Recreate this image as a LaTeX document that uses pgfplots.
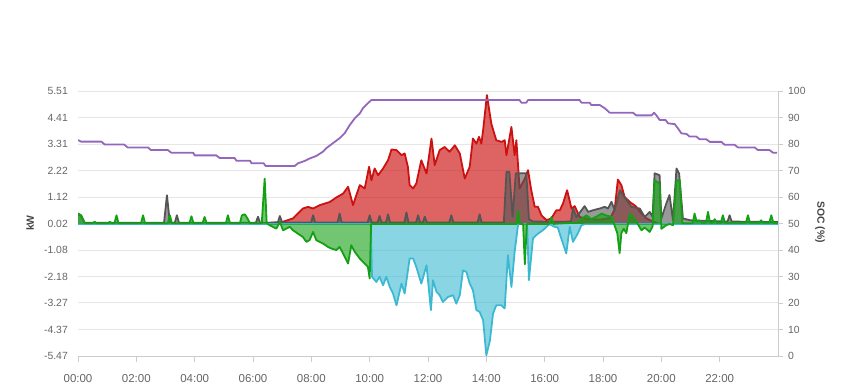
\documentclass[border=0pt]{standalone}
\usepackage{fontspec}
\setmainfont{Liberation Sans}
\usepackage{pgfplots}
\pgfplotsset{compat=1.18}
\usepackage{pgfplotstable}
\definecolor{redc}{HTML}{CC1111}
\definecolor{grayc}{HTML}{555555}
\definecolor{greenc}{HTML}{14A014}
\definecolor{cyanc}{HTML}{3CB9D2}
\definecolor{purc}{HTML}{9467BD}
\definecolor{gridc}{HTML}{E6E6E6}
\definecolor{axisc}{HTML}{CCCCCC}
\definecolor{labc}{HTML}{666666}
\definecolor{titc}{HTML}{444444}

\pgfplotstableread{
t v
0 0
6.40 0
6.57 0.05
7.02 0.09
7.37 0.23
7.71 0.64
7.89 0.71
8.06 0.64
8.29 0.78
8.63 0.91
8.86 1.10
9.09 1.26
9.26 1.54
9.43 0.78
9.66 1.61
9.83 1.47
9.98 2.37
10.06 1.81
10.17 2.30
10.29 2.02
10.46 2.30
10.63 2.64
10.75 3.09
10.92 3.06
11.09 2.85
11.20 2.92
11.31 2.37
11.37 1.61
11.49 1.47
11.60 1.68
11.77 2.64
11.95 2.09
12.12 3.54
12.23 2.44
12.40 3.06
12.57 3.19
12.74 2.99
12.92 3.26
13.09 2.92
13.26 1.88
13.43 2.37
13.54 3.54
13.66 3.33
13.75 3.61
13.83 3.33
13.89 3.89
14.02 5.34
14.17 4.16
14.34 3.47
14.52 3.40
14.63 3.47
14.69 2.85
14.86 4.02
14.97 2.85
15.03 3.47
15.14 1.47
15.32 1.88
15.43 2.23
15.54 1.40
15.66 0.71
15.77 0.71
15.89 0.36
16.06 0.16
16.23 0.23
16.40 0.57
16.52 0.57
16.63 0.85
16.77 1.40
16.92 0.64
17.03 0.74
17.20 0.29
17.50 0.20
17.90 0.18
18.25 0.25
18.40 0.60
18.51 1.84
18.63 1.61
18.74 1.12
18.92 0.91
19.12 0.74
19.32 0.43
19.49 0.23
19.67 0.12
19.94 0
24 0
}\redtab

\pgfplotstableread{
t v
0 0.40
0.11 0.33
0.23 0.05
2.95 0.05
3.05 1.19
3.15 0.05
3.32 0.05
3.39 0.36
3.46 0.05
6.10 0.05
6.17 0.30
6.24 0.05
6.85 0.05
6.92 0.33
7.00 0.06
7.99 0.06
8.06 0.36
8.13 0.06
8.90 0.06
8.97 0.43
9.04 0.06
9.93 0.06
10.00 0.36
10.07 0.06
10.27 0.06
10.34 0.33
10.41 0.06
10.56 0.06
10.63 0.40
10.70 0.06
11.19 0.06
11.26 0.48
11.33 0.06
11.59 0.06
11.66 0.36
11.73 0.06
11.82 0.06
11.89 0.30
11.96 0.06
12.73 0.06
12.80 0.36
12.87 0.06
13.70 0.06
13.77 0.40
13.84 0.06
14.60 0.06
14.69 2.16
14.79 2.16
14.90 0.30
15.01 2.10
15.37 2.10
15.46 0.20
15.60 0.10
16.52 0.09
16.90 0.10
16.97 0.64
17.09 0.29
17.37 0.74
17.49 0.50
17.66 0.57
17.89 0.64
18.06 0.71
18.17 0.64
18.29 0.92
18.40 0.57
18.58 1.40
18.74 1.12
18.97 0.71
19.26 0.64
19.43 0.29
19.60 0.50
19.70 0.30
19.77 2.10
19.94 2.02
20.00 0.23
20.17 0.85
20.28 1.20
20.40 0.16
20.52 2.30
20.61 2.09
20.74 0.23
21.00 0.15
22.27 0.10
22.34 0.36
22.41 0.10
24 0.08
}\graytab

\pgfplotstableread{
t v
0 0
10.04 0
10.08 -2.19
10.23 -2.40
10.34 -2.19
10.46 -2.54
10.57 -2.19
10.69 -2.61
10.80 -2.88
10.92 -3.37
11.09 -2.47
11.20 -2.88
11.37 -1.43
11.49 -1.43
11.60 -1.78
11.77 -2.47
11.95 -1.71
12.10 -3.57
12.17 -2.33
12.29 -2.81
12.40 -2.95
12.51 -3.23
12.69 -3.02
12.86 -2.95
12.97 -3.30
13.09 -2.95
13.20 -1.92
13.32 -1.99
13.43 -2.47
13.54 -2.74
13.66 -3.57
13.77 -3.64
13.89 -3.99
14.00 -5.44
14.12 -4.85
14.23 -3.71
14.34 -3.37
14.52 -3.37
14.63 -3.50
14.74 -1.29
14.86 -2.61
14.97 -1.16
15.09 0
15.40 0
15.46 -2.33
15.60 -0.59
15.77 -0.40
15.94 -0.26
16.17 0
16.30 -0.10
16.45 -0.15
16.57 -0.60
16.74 -1.22
16.86 -0.12
16.97 -0.74
17.14 -0.39
17.26 -0.05
17.40 0
24 0
}\cyantab

\pgfplotstableread{
t v
0 0.44
0.11 0.36
0.23 0.03
0.50 0.03
0.57 0.09
0.64 0.03
1.02 0.03
1.09 0.09
1.16 0.03
1.25 0.03
1.32 0.36
1.39 0.03
2.16 0.03
2.23 0.36
2.30 0.03
3.08 0.03
3.15 0.36
3.22 0.03
3.82 0.03
3.89 0.32
3.96 0.03
4.27 0.03
4.34 0.29
4.41 0.03
5.07 0.03
5.14 0.36
5.21 0.03
5.55 0.03
5.62 0.36
5.72 0.40
5.80 0.25
5.90 0.03
6.30 0.03
6.40 1.88
6.47 0.03
6.57 -0.05
6.80 -0.19
6.92 0.09
7.03 -0.26
7.26 -0.12
7.37 -0.26
7.54 -0.40
7.71 -0.54
7.83 -0.74
7.94 -0.67
8.06 -0.33
8.17 -0.67
8.40 -0.81
8.57 -0.95
8.69 -1.02
8.86 -1.08
8.97 -0.95
9.09 -1.23
9.26 -1.64
9.37 -0.88
9.49 -1.16
9.66 -1.43
9.83 -1.64
9.94 -1.78
10.00 -2.26
10.05 0
15.04 0
15.09 0.56
15.14 0
15.26 0
15.32 -1.67
15.39 0
16.15 0
16.23 0.29
16.30 0
16.52 0.02
17.09 0.05
17.43 0.36
17.60 0.20
17.77 0.30
17.95 0.43
18.12 0.35
18.29 0.30
18.49 -0.38
18.57 -1.21
18.63 -0.38
18.71 -0.20
18.80 -0.38
18.92 0.43
19.09 0.20
19.32 -0.26
19.43 -0.15
19.60 -0.33
19.70 -0.10
19.77 1.81
19.94 1.67
20.00 -0.20
20.17 -0.05
20.28 0.00
20.40 -0.05
20.52 1.81
20.63 1.81
20.72 0.03
21.07 0.03
21.14 0.43
21.21 0.10
21.31 0.15
21.40 0.05
21.53 0.05
21.60 0.50
21.67 0.05
21.76 0.05
21.83 0.20
21.90 0.05
22.04 0.05
22.11 0.36
22.18 0.05
22.90 0.05
22.97 0.36
23.04 0.05
23.35 0.05
23.42 0.15
23.50 0.05
23.70 0.05
23.77 0.36
23.84 0.05
24 0.03
}\greentab

\pgfplotstableread{
t v
0 81.5
0.10 80.9
0.80 80.9
0.92 79.8
1.58 79.8
1.70 78.7
2.40 78.7
2.50 77.7
3.08 77.7
3.20 76.7
3.95 76.7
4.00 75.7
4.74 75.7
4.86 74.7
5.37 74.7
5.43 73.7
5.90 73.7
5.95 72.7
6.37 72.7
6.43 71.7
7.43 71.7
7.54 72.7
7.77 73.6
7.94 74.5
8.17 75.5
8.40 77.1
8.51 78.4
8.74 80.3
8.97 82.2
9.14 84.0
9.32 87.2
9.49 89.7
9.66 91.5
9.77 93.5
9.94 95.4
10.06 96.6
15.14 96.6
15.20 95.6
15.37 95.6
15.43 96.6
17.20 96.6
17.26 95.6
17.54 95.6
17.60 94.7
17.89 94.7
18.06 93.5
18.23 91.8
19.03 91.8
19.14 90.8
19.66 90.8
19.75 91.8
19.83 90.8
19.94 89.1
20.15 89.0
20.23 87.8
20.46 87.5
20.57 85.9
20.69 84.0
20.86 83.8
20.97 82.8
21.20 82.8
21.31 81.8
21.54 81.8
21.66 80.8
22.06 80.8
22.17 79.7
22.51 79.7
22.63 78.7
23.20 78.7
23.31 77.7
23.71 77.7
23.83 76.7
23.97 76.7
}\soctab

\begin{document}
\begin{tikzpicture}
\path[use as bounding box] (0,0) rectangle (849pt,390pt);
\begin{axis}[
  at={(78pt,34pt)}, anchor=south west,
  scale only axis, width=700pt, height=265pt,
  xmin=0, xmax=24, ymin=-5.47, ymax=5.51,
  axis x line*=bottom, axis y line*=left,
  x axis line style={draw=axisc, line width=0.8pt, -},
  y axis line style={draw=none},
  xtick={0,2,...,22},
  xticklabels={00:00,02:00,04:00,06:00,08:00,10:00,12:00,14:00,16:00,18:00,20:00,22:00},
  ytick={-5.47,-4.37,-3.27,-2.18,-1.08,0.02,1.12,2.22,3.31,4.41,5.51},
  yticklabels={-5.47,-4.37,-3.27,-2.18,-1.08,0.02,1.12,2.22,3.31,4.41,5.51},
  ymajorgrids, grid style={draw=gridc, line width=0.8pt},
  tick align=outside, major tick length=6pt,
  xtick style={draw=axisc, line width=0.8pt},
  ytick style={draw=none},
  yticklabel style={font=\fontsize{10.4}{12}\selectfont, text=labc, anchor=east, inner sep=0pt, xshift=-4pt},
  xticklabel style={font=\fontsize{11.5}{13}\selectfont, text=labc, anchor=north, inner sep=0pt, yshift=-12pt},
  clip=true,
]
\addplot[draw=none, fill=redc, fill opacity=0.65] table {\redtab} \closedcycle;
\addplot[draw=redc, line width=1.8pt, line join=round] table {\redtab};
\addplot[draw=none, fill=grayc, fill opacity=0.6] table {\graytab} \closedcycle;
\addplot[draw=grayc, line width=1.8pt, line join=round] table {\graytab};
\addplot[draw=none, fill=cyanc, fill opacity=0.6] table {\cyantab} \closedcycle;
\addplot[draw=cyanc, line width=1.8pt, line join=round] table {\cyantab};
\addplot[draw=none, fill=greenc, fill opacity=0.6] table {\greentab} \closedcycle;
\addplot[draw=greenc, line width=1.8pt, line join=round] table {\greentab};
\end{axis}
\begin{axis}[
  at={(78pt,34pt)}, anchor=south west,
  scale only axis, width=700pt, height=265pt,
  xmin=0, xmax=24, ymin=0, ymax=100,
  axis x line=none, axis y line*=right,
  y axis line style={draw=axisc, line width=0.8pt, -},
  ytick={0,10,...,100},
  yticklabels={0,10,20,30,40,50,60,70,80,90,100},
  tick align=outside, major tick length=5pt,
  ytick style={draw=axisc, line width=0.8pt},
  yticklabel style={font=\fontsize{10.4}{12}\selectfont, text=labc, anchor=west, inner sep=0pt, xshift=5pt},
]
\addplot[draw=purc, line width=1.8pt, line join=round] table {\soctab};
\end{axis}
\node[rotate=90, font=\bfseries\fontsize{10.4}{12}\selectfont, text=titc] at (30pt,167pt) {kW};
\node[rotate=-90, font=\bfseries\fontsize{10.4}{12}\selectfont, text=titc] at (820pt,168pt) {SOC (\%)};
\end{tikzpicture}
\end{document}
